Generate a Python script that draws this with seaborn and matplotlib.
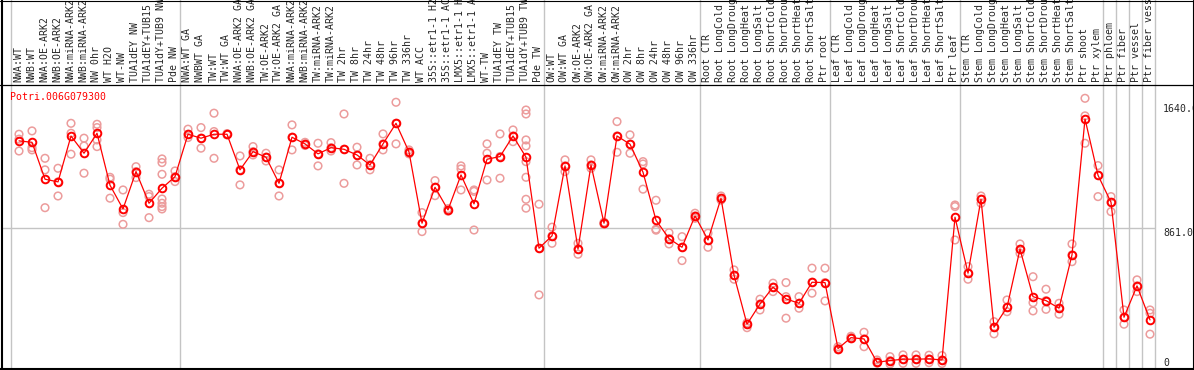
import numpy as np
import pandas as pd
import matplotlib
matplotlib.use("Agg")
import matplotlib.pyplot as plt
import matplotlib.transforms as mtrans
from matplotlib.lines import Line2D
import seaborn as sns

# ---------------- data ----------------
gene = "Potri.006G079300"

labels = [
    "NWA:WT", "NWB:WT", "NWA:OE-ARK2", "NWB:OE-ARK2", "NWA:miRNA-ARK2", "NWB:miRNA-ARK2",
    "NW 0hr", "WT H2O", "WT-NW", "TUA1dEY NW", "TUA1dEY+TUB15 NW", "TUA1dY+TUB9 NW", "Pde NW",
    "NWA:WT GA", "NWBWT GA", "TW:WT", "TW:WT GA", "NWA:OE-ARK2 GA", "NWB:OE-ARK2 GA",
    "TW:OE-ARK2", "TW:OE-ARK2 GA", "NWA:miRNA-ARK2", "NWB:miRNA-ARK2", "TW:miRNA-ARK2",
    "TW:miRNA-ARK2", "TW 2hr", "TW 8hr", "TW 24hr", "TW 48hr", "TW 96hr", "TW 336hr", "WT ACC",
    "35S::etr1-1 H2O", "35S::etr1-1 ACC", "LMX5::etr1-1 H2O", "LMX5::etr1-1 ACC", "WT-TW",
    "TUA1dEY TW", "TUA1dEY+TUB15 TW", "TUA1dY+TUB9 TW", "Pde TW",
    "OW:WT", "OW:WT GA", "OW:OE-ARK2", "OW:OE-ARK2 GA", "OW:miRNA-ARK2", "OW:miRNA-ARK2",
    "OW 2hr", "OW 8hr", "OW 24hr", "OW 48hr", "OW 96hr", "OW 336hr",
    "Root CTR", "Root LongCold", "Root LongDrought", "Root LongHeat", "Root LongSalt",
    "Root ShortCold", "Root ShortDrought", "Root ShortHeat", "Root ShortSalt", "Ptr root",
    "Leaf CTR", "Leaf LongCold", "Leaf LongDrought", "Leaf LongHeat", "Leaf LongSalt",
    "Leaf ShortCold", "Leaf ShortDrought", "Leaf ShortHeat", "Leaf ShortSalt", "Ptr leaf",
    "Stem CTR", "Stem LongCold", "Stem LongDrought", "Stem LongHeat", "Stem LongSalt",
    "Stem ShortCold", "Stem ShortDrought", "Stem ShortHeat", "Stem ShortSalt", "Ptr shoot",
    "Ptr xylem", "Ptr phloem", "Ptr fiber", "Ptr vessel", "Ptr fiber vessel",
]

# first column of each sample group (last entry = end)
group_starts = [0, 13, 41, 53, 63, 73, 84, 85, 86, 87, 88]

means = [
    1409, 1400, 1167, 1150, 1440, 1331, 1457, 1129, 979, 1215, 1015, 1110, 1183,
    1451, 1426, 1451, 1451, 1226, 1341, 1306, 1141, 1432, 1390, 1327, 1366, 1356, 1320,
    1257, 1390, 1520, 1339, 889, 1116, 973, 1194, 1011, 1293, 1310, 1440, 1306, 731,
    809, 1251, 725, 1257, 889, 1440, 1388, 1211, 908, 792, 737, 935,
    783, 1047, 560, 251, 379, 485, 411, 383, 516, 514,
    97, 166, 158, 11, 21, 30, 30, 32, 25, 927,
    573, 1040, 232, 358, 725, 425, 400, 352, 689, 1548, 1192,
    1021, 295, 493, 278,
]

replicates = [
    [1451, 1420, 1345], [1472, 1366, 1352], [1299, 1226, 987], [1236, 1150, 1061],
    [1520, 1457, 1325], [1426, 1377, 1205], [1514, 1493, 1415, 1373], [1179, 1167, 1047],
    [1099, 956, 882], [1246, 1215, 1177], [1072, 1057, 924],
    [1295, 1272, 1198, 1042, 1015, 994, 979], [1219, 1183, 1152],
    [1483, 1451, 1430], [1493, 1426, 1363], [1584, 1468, 1299], [1455, 1451, 1447],
    [1314, 1226, 1131], [1373, 1341, 1320], [1331, 1306, 1282], [1226, 1141, 1061],
    [1510, 1432, 1352], [1400, 1390, 1380], [1394, 1327, 1251], [1398, 1366, 1345],
    [1579, 1356, 1141], [1369, 1320, 1257], [1299, 1257, 1226], [1453, 1390, 1352],
    [1653, 1520, 1390], [1352, 1339, 1327], [956, 889, 836], [1158, 1116, 1063],
    [981, 973, 965], [1251, 1232, 1099], [1099, 1090, 846], [1390, 1331, 1162],
    [1453, 1310, 1173], [1478, 1440, 1404],
    [1604, 1579, 1415, 1377, 1278, 1179, 1040, 984], [1009, 731, 436],
    [864, 809, 762], [1289, 1251, 1215], [762, 725, 693], [1289, 1257, 1236],
    [895, 889, 883], [1531, 1440, 1337], [1447, 1388, 1331], [1278, 1263, 1104],
    [1034, 851, 845], [829, 792, 758], [804, 737, 653], [952, 935, 920],
    [826, 783, 737], [1061, 1047, 1035], [594, 560, 535], [260, 251, 229],
    [409, 379, 341], [510, 485, 457], [514, 425, 289], [425, 383, 352],
    [605, 516, 447], [605, 514, 398],
    [109, 97, 90], [175, 166, 160], [200, 158, 109], [25, 11, 5], [46, 21, 0],
    [57, 30, 4], [57, 30, 4], [55, 32, 8], [53, 25, 3], [1004, 994, 783],
    [615, 573, 535], [1061, 1040, 1015], [267, 232, 190], [404, 358, 330],
    [758, 725, 699], [551, 387, 335], [472, 400, 345], [383, 352, 314],
    [758, 689, 646], [1678, 1567, 1394], [1253, 1192, 1057],
    [1057, 1021, 962], [341, 295, 251], [531, 493, 457], [341, 320, 188],
]

y_ticks = [1640, 861, 0]
y_tick_labels = ["1640.0", "861.0", "0"]

# ---------------- plot ----------------
W, H = 1194, 370
sns.set_style("white")
plt.rcParams['font.family'] = ['DejaVu Sans Mono']
fs = 7.1

fig = plt.figure(figsize=(W / 100, H / 100), dpi=100)
ax = fig.add_axes([2 / W, 1 / H, (1155.7 - 2) / W, (369 - 85) / H])

cols = np.arange(len(labels))
rep_df = pd.DataFrame([(i, v) for i, r in enumerate(replicates) for v in r],
                      columns=['col', 'expr'])

sns.scatterplot(data=rep_df, x='col', y='expr', ax=ax, marker='o', s=30,
                facecolor='none', edgecolor='#ec9c9c', linewidth=1.1, zorder=3)
sns.lineplot(x=cols, y=means, ax=ax, color='red', lw=0.9, marker='o',
             markersize=5.5, markerfacecolor='none', markeredgecolor='red',
             markeredgewidth=1.4, zorder=4)

# group separators run through the header as well
for g in group_starts:
    ax.axvline(g - 0.64, ymin=0, ymax=1.31, color='#c4c4c4', lw=1.0,
               clip_on=False, zorder=1)
ax.axhline(861, color='#c4c4c4', lw=1.0, zorder=1)

ax.set_xlim(-1.308, 87.438)
ax.set_ylim(-32, 1762)
ax.set_axis_off()

# sample names in the header
head = mtrans.blended_transform_factory(ax.transData, fig.transFigure)
for i, lab in enumerate(labels):
    ax.text(i - 0.05, 1 - 82.5 / H, lab, transform=head, rotation=90,
            ha='center', va='bottom', fontsize=fs, clip_on=False)

# value labels on the right
right = mtrans.blended_transform_factory(fig.transFigure, ax.transData)
for v, t in zip(y_ticks, y_tick_labels):
    if v == 0:
        ax.text(1163 / W, v - 25, t, transform=right, va='bottom', ha='left',
                fontsize=fs, clip_on=False)
    else:
        ax.text(1163 / W, v, t, transform=right, va='top', ha='left',
                fontsize=fs, clip_on=False)

fig.text(10 / W, 1 - 92 / H, gene, color='red', fontsize=fs, ha='left', va='top')

# outer frame and header rule
frame = dict(transform=fig.transFigure, color='black')
fig.add_artist(Line2D([1.5 / W, 1.5 / W], [0, 1], lw=1.5, **frame))
fig.add_artist(Line2D([0, 1], [1.0 / H, 1.0 / H], lw=1.5, **frame))
fig.add_artist(Line2D([0, 1], [1 - 0.5 / H, 1 - 0.5 / H], lw=0.8, **frame))
fig.add_artist(Line2D([1192.5 / W, 1192.5 / W], [0, 1], lw=0.8, **frame))
fig.add_artist(Line2D([0, 1], [1 - 85 / H, 1 - 85 / H], lw=0.9, **frame))

fig.savefig("out.png", dpi=100)
